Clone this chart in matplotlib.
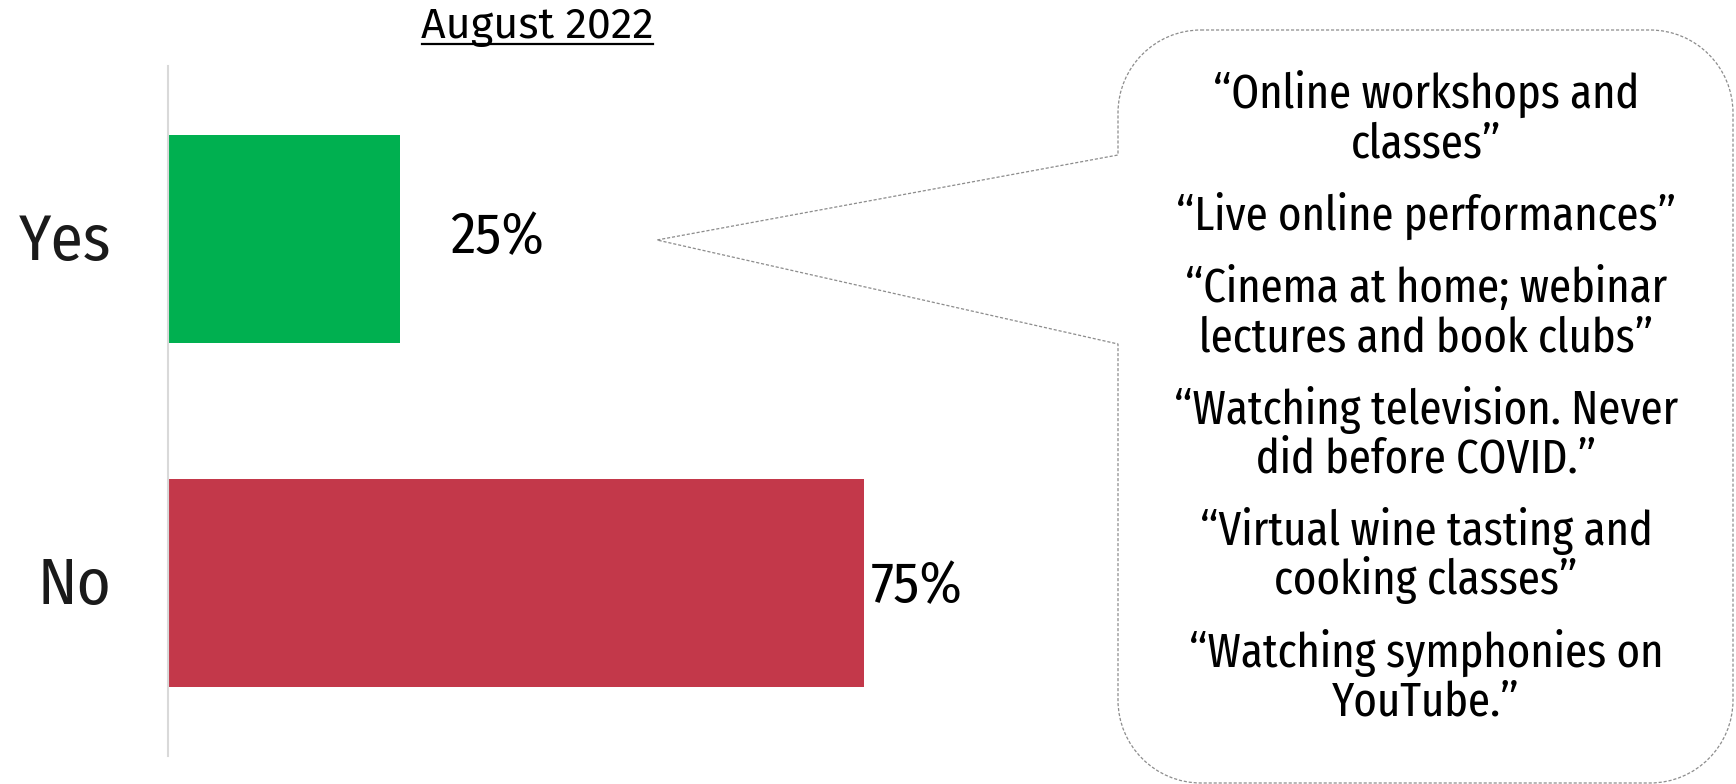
import matplotlib.pyplot as plt
from matplotlib.path import Path
from matplotlib.patches import PathPatch
from matplotlib.transforms import ScaledTranslation

# data
categories = ['Yes', 'No']
shares = [25, 75]
bar_colors = ['#00B050', '#C3384A']
title = 'August 2022'
quotes = [
    '\u201cOnline workshops and\nclasses\u201d',
    '\u201cLive online performances\u201d',
    '\u201cCinema at home; webinar\nlectures and book clubs\u201d',
    '\u201cWatching television. Never\ndid before COVID.\u201d',
    '\u201cVirtual wine tasting and\ncooking classes\u201d',
    '\u201cWatching symphonies on\nYouTube.\u201d',
]

narrow = ['Fira Sans Condensed', 'DejaVu Sans']
xnarrow = ['Fira Sans Extra Condensed', 'Fira Sans Condensed', 'DejaVu Sans']

W, H = 1736, 784
fig = plt.figure(figsize=(W / 100, H / 100), dpi=100)

# bar axes, placed in pixels
left, right, top, bottom = 168, 1096, 66, 756
ax = fig.add_axes([left / W, 1 - bottom / H, (right - left) / W, (bottom - top) / H])
ypos = list(range(len(categories)))
ax.barh(ypos, shares, height=0.605, color=bar_colors)
ax.set_xlim(0, 100)
ax.set_ylim(1.503, -0.503)
ax.set_yticks(ypos)
ax.set_yticklabels(categories, fontsize=47, family=narrow, color='#1a1a1a')
ax.tick_params(axis='y', length=0, pad=41)
# nudge the category labels up a little
for lab in ax.get_yticklabels():
    lab.set_transform(lab.get_transform() + ScaledTranslation(0, 0.03, fig.dpi_scale_trans))
ax.set_xticks([])
for s in ['top', 'right', 'bottom']:
    ax.spines[s].set_visible(False)
ax.spines['left'].set_color('#D9D9D9')
ax.spines['left'].set_linewidth(1.5)

# value labels (PowerPoint put them at uneven gaps)
label_pad = [(36, 1), (5, -3)]
for i, v in enumerate(shares):
    ax.annotate(f'{v}%', (v, i), xytext=label_pad[i], textcoords='offset points',
                ha='left', va='center', fontsize=41, family=narrow, color='black')

# overlay in pixel coords for title and callout
ov = fig.add_axes([0, 0, 1, 1], facecolor='none')
ov.set_xlim(0, W)
ov.set_ylim(H, 0)
ov.axis('off')

ov.text(537, 38, title, ha='center', va='baseline', fontsize=31, family='Fira Sans')
ov.plot([422, 653], [44, 44], color='black', lw=1.6)

# speech bubble with pointer
L, R, T, B, r = 1118, 1733, 30, 783, 83
k = 0.5523 * r
tip = (657, 240)
verts = [
    (L + r, T), (R - r, T),
    (R - r + k, T), (R, T + r - k), (R, T + r),
    (R, B - r),
    (R, B - r + k), (R - r + k, B), (R - r, B),
    (L + r, B),
    (L + r - k, B), (L, B - r + k), (L, B - r),
    (L, 344), tip, (L, 155),
    (L, T + r),
    (L, T + r - k), (L + r - k, T), (L + r, T),
]
codes = [Path.MOVETO, Path.LINETO,
         Path.CURVE4, Path.CURVE4, Path.CURVE4,
         Path.LINETO,
         Path.CURVE4, Path.CURVE4, Path.CURVE4,
         Path.LINETO,
         Path.CURVE4, Path.CURVE4, Path.CURVE4,
         Path.LINETO, Path.LINETO, Path.LINETO,
         Path.LINETO,
         Path.CURVE4, Path.CURVE4, Path.CURVE4]
ov.add_patch(PathPatch(Path(verts, codes), facecolor='white', edgecolor='#8C8C8C',
                       lw=0.9, linestyle=(0, (2.5, 1.5)), clip_on=False))

# quotes, one line at a time
cx = 1426
y = 92
line_step = 49
para_gap = 72.5
for q in quotes:
    lines = q.split('\n')
    for j, ln in enumerate(lines):
        ov.text(cx, y + 16, ln, ha='center', va='baseline', fontsize=35,
                family=xnarrow, color='black')
        if j < len(lines) - 1:
            y += line_step
    y += para_gap

fig.savefig('out.png', dpi=100)
